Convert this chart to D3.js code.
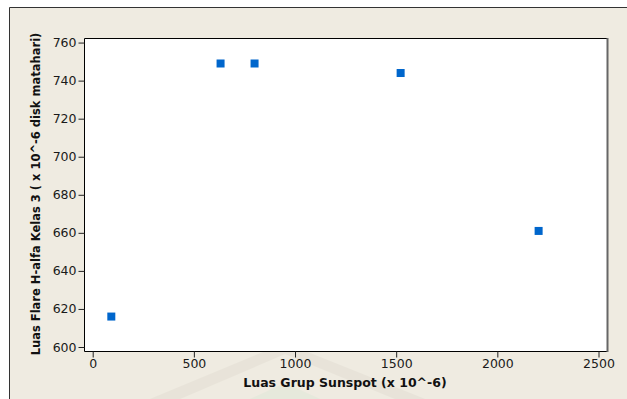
<!DOCTYPE html>
<html>
<head>
<meta charset="utf-8">
<script src="https://cdn.jsdelivr.net/npm/d3@7"></script>
<style>
  html, body { margin: 0; padding: 0; background: #fff; }
  svg { display: block; }
  .tick text { font-family: "DejaVu Sans", sans-serif; font-size: 12.5px; fill: #1a1a1a; }
  .title { font-family: "DejaVu Sans", sans-serif; font-weight: bold; fill: #111; }
</style>
</head>
<body>
<svg id="chart"></svg>
<script>
// chart size
const width = 627;
const height = 399;

// data
const sunspotArea = [92, 632, 800, 1522, 2204];
const flareArea = [616, 749, 749, 744, 661];
const xTicks = [0, 500, 1000, 1500, 2000, 2500];
const yTicks = [600, 620, 640, 660, 680, 700, 720, 740, 760];

const xLabel = "Luas Grup Sunspot (x 10^-6)";
const yLabel = "Luas Flare H-alfa Kelas 3 ( x 10^-6 disk matahari)";

// plot area
const plot = { left: 84, top: 38, right: 607, bottom: 351 };

const svg = d3.select("#chart")
    .attr("width", width)
    .attr("height", height);

// beige frame
svg.append("rect")
    .attr("x", 9).attr("y", 7)
    .attr("width", width - 9).attr("height", height - 7)
    .attr("fill", "#efebe1");
svg.append("path")
    .attr("d", `M9.5,${height} V7.5 H${width}`)
    .attr("fill", "none")
    .attr("stroke", "#333")
    .attr("stroke-width", 1);

// faint watermark at the bottom
const wm = svg.append("g").attr("opacity", 0.5);
wm.append("path")
    .attr("d", "M150,399 L285,343 L425,399 L395,399 L285,354 L180,399 Z")
    .attr("fill", "#e2ddd2");
wm.append("path")
    .attr("d", "M250,399 L285,383 L320,399 Z")
    .attr("fill", "#dfe8d8");

const x = d3.scaleLinear()
    .domain([-43, 2542])
    .range([plot.left, plot.right]);

const y = d3.scaleLinear()
    .domain([597.9, 762.4])
    .range([plot.bottom, plot.top]);

// white plot area
svg.append("rect")
    .attr("x", plot.left).attr("y", plot.top)
    .attr("width", plot.right - plot.left)
    .attr("height", plot.bottom - plot.top)
    .attr("fill", "#fff");

// border: black top/left/bottom, grey shadow on the right
svg.append("path")
    .attr("d", `M${plot.right},${plot.top + 0.5} H${plot.left + 0.5} V${plot.bottom + 0.5} H${plot.right + 1}`)
    .attr("fill", "none")
    .attr("stroke", "#000");
svg.append("line")
    .attr("x1", plot.right + 0.5).attr("x2", plot.right + 0.5)
    .attr("y1", plot.top).attr("y2", plot.bottom + 1)
    .attr("stroke", "#666")
    .attr("stroke-width", 2);

// axes
const xAxis = svg.append("g")
    .attr("transform", `translate(0,${plot.bottom + 0.5})`)
    .call(d3.axisBottom(x).tickValues(xTicks).tickFormat(d3.format("d")).tickSize(6).tickPadding(2));
xAxis.select(".domain").remove();

const yAxis = svg.append("g")
    .attr("transform", `translate(${plot.left + 0.5},0)`)
    .call(d3.axisLeft(y).tickValues(yTicks).tickFormat(d3.format("d")).tickSize(6).tickPadding(2));
yAxis.select(".domain").remove();

svg.selectAll(".tick line").attr("stroke", "#222");

// axis titles
svg.append("text")
    .attr("class", "title")
    .attr("x", 345)
    .attr("y", 387)
    .attr("text-anchor", "middle")
    .style("font-size", "12.5px")
    .text(xLabel);

svg.append("text")
    .attr("class", "title")
    .attr("transform", `translate(40,194) rotate(-90)`)
    .attr("text-anchor", "middle")
    .style("font-size", "11.5px")
    .text(yLabel);

// points
svg.selectAll("rect.point")
    .data(sunspotArea)
    .join("rect")
    .attr("class", "point")
    .attr("x", d => x(d) - 4)
    .attr("y", (d, i) => y(flareArea[i]) - 4)
    .attr("width", 8)
    .attr("height", 8)
    .attr("fill", "#0066cc");
</script>
</body>
</html>
